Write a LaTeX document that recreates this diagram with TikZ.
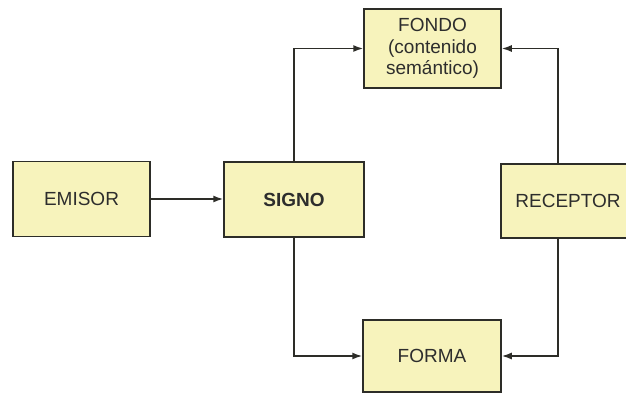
\documentclass[tikz,border=0pt]{standalone}
\usepackage{fontspec}
\setmainfont{Liberation Sans}
\usetikzlibrary{arrows.meta}
\definecolor{boxfill}{RGB}{247,243,188}
\definecolor{boxline}{RGB}{45,45,40}
\definecolor{txt}{RGB}{45,45,45}
\begin{document}
\begin{tikzpicture}[x=1pt,y=-1pt,
  blk/.style={draw=boxline,line width=1.5pt,fill=boxfill,rectangle,inner sep=0pt,
    text=txt,font=\fontsize{19}{21.7}\selectfont,align=center},
  conn/.style={draw=boxline,line width=1.5pt,-{Latex[length=10pt,width=7pt]}}]
\useasboundingbox (0,0) rectangle (626,394);
\clip (0,0) rectangle (626,394);
\node[blk,minimum width=137pt,minimum height=75pt] (emisor) at (81.5,199) {EMISOR};
\node[blk,minimum width=140pt,minimum height=75pt,font=\fontsize{19}{21.7}\selectfont\bfseries] (signo) at (294,199.5) {SIGNO};
\node[blk,minimum width=137pt,minimum height=79pt] (fondo) at (432.5,48.5) {FONDO\\(contenido\\semántico)};
\node[blk,minimum width=134pt,minimum height=74pt] (receptor) at (568,201) {RECEPTOR};
\node[blk,minimum width=138pt,minimum height=72pt] (forma) at (432,356) {FORMA};
\draw[conn] (emisor.east) -- (emisor.east -| signo.west);
\draw[conn] (signo.north) |- (fondo.west);
\draw[conn] ([xshift=-10pt]receptor.north) |- (fondo.east);
\draw[conn] (signo.south) |- (forma.west);
\draw[conn] ([xshift=-10pt]receptor.south) |- (forma.east);
\end{tikzpicture}
\end{document}
